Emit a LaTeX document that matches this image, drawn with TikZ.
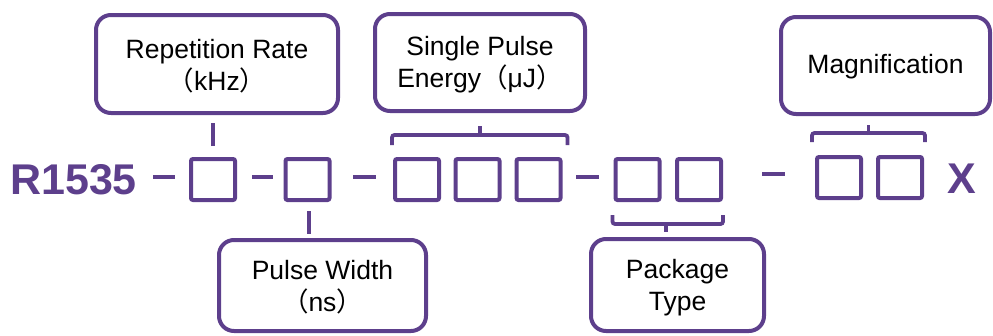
\documentclass[tikz,border=0pt]{standalone}
\usepackage{fontspec}
\setmainfont{Liberation Sans}
\newfontfamily\cjk{Noto Sans CJK SC}
\usetikzlibrary{calc}
\definecolor{pur}{RGB}{93,63,140}
\begin{document}
\begin{tikzpicture}[x=1pt,y=-1pt,
  lbl/.style={draw=pur, line width=4pt, rounded corners=15pt, inner sep=0pt},
  lbltext/.style={inner sep=0pt, align=center, font=\fontsize{26.5}{32}\selectfont, text=black},
  sq/.style={draw=pur, line width=4pt, rounded corners=2pt, minimum width=44pt, minimum height=41pt, inner sep=0pt},
  conn/.style={draw=pur, line width=4pt},
  brk/.style={draw=pur, line width=3.8pt, rounded corners=2.5pt},
  big/.style={text=pur, inner sep=0pt, anchor=base, font=\fontsize{43}{43}\selectfont\bfseries}]
\useasboundingbox (0,0) rectangle (993,335);
% label boxes
\node[lbl, minimum width=242pt, minimum height=98pt] (rep) at (217,64) {};
\node[lbltext] (repT) at ($(rep.center)+(0,2.5)$) {Repetition Rate\\{\cjk （}kHz{\cjk ）}};
\node[lbl, minimum width=207pt, minimum height=91pt] (pw) at (322.5,285.5) {};
\node[lbltext] (pwT) at ($(pw.center)+(0,2)$) {Pulse Width\\{\cjk （}ns{\cjk ）}};
\node[lbl, minimum width=210pt, minimum height=97pt] (spe) at (480,62.5) {};
\node[lbltext] (speT) at ($(spe.center)+(0,2)$) {Single Pulse\\Energy{\cjk （}μJ{\cjk ）}};
\node[lbl, minimum width=173pt, minimum height=92pt] (pkg) at (677.5,285) {};
\node[lbltext] (pkgT) at ($(pkg.center)+(0,2.5)$) {Package\\Type};
\node[lbl, minimum width=209pt, minimum height=97pt] (mag) at (885.5,65.5) {};
\node[lbltext] (magT) at ($(mag.center)+(0,1)$) {Magnification};
% code text
\node[big] (code) at (73.5,194) {R1535};
\node[big] (xx) at (962,193) {X};
% squares
\node[sq] (b1) at (213,179.5) {};
\node[sq] (b2) at (307.5,179.5) {};
\node[sq] (e1) at (417,179.5) {};
\node[sq] (e2) at (477.5,179.5) {};
\node[sq] (e3) at (538.5,179.5) {};
\node[sq] (p1) at (637.5,179.5) {};
\node[sq] (p2) at (699,179.5) {};
\node[sq] (m1) at (839,177.5) {};
\node[sq] (m2) at (900,177.5) {};
% dashes
\draw[conn] (153,177) -- (175,177);
\draw[conn] (252,177) -- (273,177);
\draw[conn] (353,177) -- (376,177);
\draw[conn] (576,177) -- (599,177);
\draw[conn] (762,174) -- (785,174);
% ticks
\draw[conn] ([yshift=11pt]b1.north) -- ([yshift=34pt]b1.north);
\draw[conn] ([xshift=1.5pt,yshift=-9pt]b2.south) -- ([xshift=1.5pt,yshift=-32pt]b2.south);
% brackets
\draw[brk] ([xshift=-1pt,yshift=12pt]e1.north west) -- ([xshift=-1pt,yshift=22pt]e1.north west)
  -- ([xshift=5pt,yshift=22pt]e3.north east) -- ([xshift=5pt,yshift=12pt]e3.north east);
\draw[conn, line width=3.8pt] ($(e1.north west)!0.5!(e3.north east)+(2,-20)$) -- ++(0,-11);
\draw[brk] ([xshift=-1pt,yshift=-13pt]p1.south west) -- ([xshift=-1pt,yshift=-22pt]p1.south west)
  -- ([yshift=-22pt]p2.south east) -- ([yshift=-13pt]p2.south east);
\draw[conn, line width=3.8pt] ($(p1.south west)!0.5!(p2.south east)+(-2,20)$) -- ++(0,10);
\draw[brk] ([xshift=-3pt,yshift=13pt]m1.north west) -- ([xshift=-3pt,yshift=22pt]m1.north west)
  -- ([xshift=1pt,yshift=22pt]m2.north east) -- ([xshift=1pt,yshift=13pt]m2.north east);
\draw[conn, line width=3.8pt] ($(m1.north west)!0.5!(m2.north east)+(-1,-20)$) -- ++(0,-10);
\end{tikzpicture}
\end{document}
